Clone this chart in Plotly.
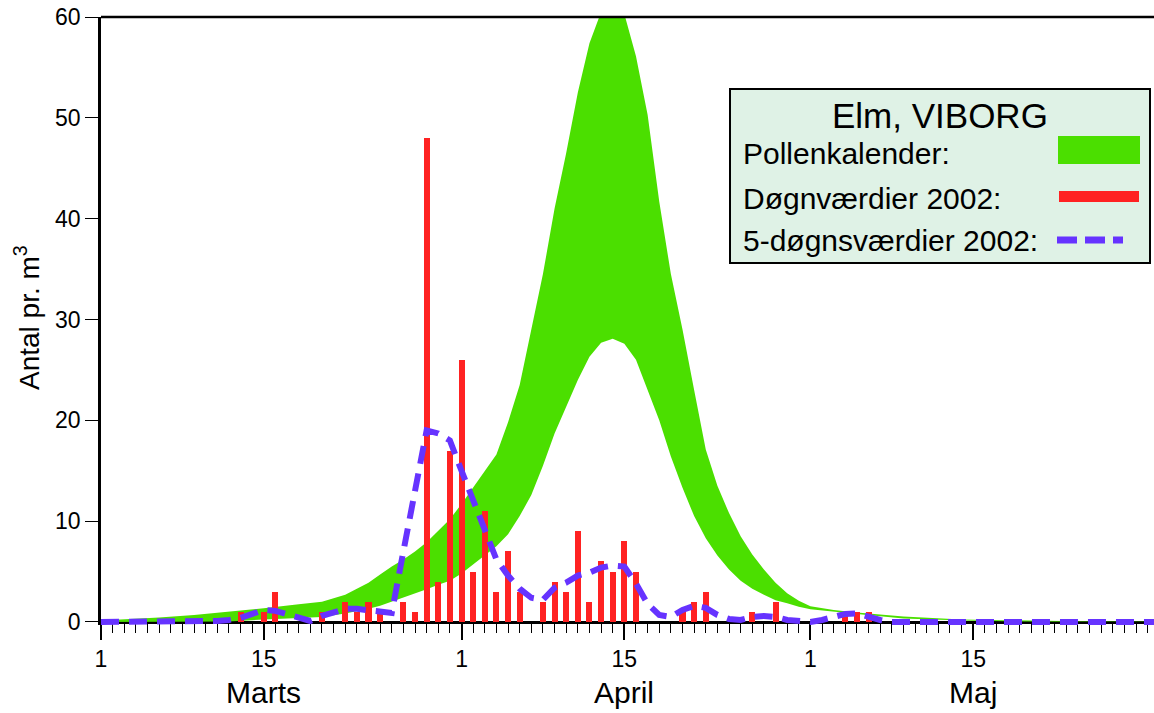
import plotly.graph_objects as go

# ---------------- data ----------------
# Pollen calendar band (day number counted from 1 March)
cal_days = [1, 3, 6, 9, 12, 15, 18, 20, 22, 24, 25, 26, 27, 28, 29, 30, 31, 32, 33, 34,
            35, 36, 37, 38, 39, 40, 41, 42, 43, 44, 45, 46, 47, 48, 49, 50, 51, 52, 53, 54,
            55, 56, 57, 58, 59, 60, 61, 62, 64, 66, 70, 75, 80, 85, 92]
cal_upper = [0.15, 0.25, 0.45, 0.7, 1.0, 1.35, 1.75, 2.0, 2.7, 3.9, 4.7, 5.5, 6.2, 7.0, 7.9, 9.0, 10.2, 11.7, 13.3, 14.9,
             16.6, 19.8, 23.5, 29.0, 34.5, 41.0, 46.5, 52.5, 57.4, 60.5, 61.8, 60.3, 56.1, 50.3, 41.7, 34.5, 29.0, 23.0, 17.1, 13.5,
             10.8, 8.5, 6.7, 5.2, 3.9, 2.85, 2.1, 1.55, 1.2, 0.95, 0.55, 0.25, 0.12, 0.06, 0.03]
cal_lower = [0.0, 0.0, 0.0, 0.0, 0.05, 0.25, 0.42, 0.5, 0.85, 1.3, 1.6, 2.0, 2.4, 2.85, 3.25, 3.7, 4.1, 4.8, 5.7, 6.6,
             7.5, 8.7, 10.5, 12.6, 15.5, 18.7, 21.4, 24.0, 26.3, 27.7, 28.1, 27.6, 26.0, 23.0, 20.0, 16.4, 13.3, 10.5, 8.3, 6.6,
             5.2, 4.1, 3.3, 2.7, 2.15, 1.85, 1.5, 1.25, 1.0, 0.8, 0.35, 0.15, 0.05, 0.02, 0.0]

# Daily values 2002
bar_days = [13, 15, 16, 20, 22, 23, 24, 25, 27, 28, 29, 30, 31, 32, 33, 34, 35, 36, 37,
            39, 40, 41, 42, 43, 44, 45, 46, 47, 51, 52, 53, 57, 59, 65, 66, 67]
bar_vals = [1, 1, 3, 1, 2, 1, 2, 1, 2, 1, 48, 4, 17, 26, 5, 11, 3, 7, 3,
            2, 4, 3, 9, 2, 6, 5, 8, 5, 1, 2, 3, 1, 2, 1, 1, 1]

# 5-day values 2002
dash_days = [1, 10, 11, 12, 13, 14, 15, 16, 17, 18, 19, 20, 21, 22, 23, 24, 25, 26, 27, 28,
             29, 30, 31, 32, 33, 34, 35, 36, 37, 38, 39, 40, 41, 42, 43, 44, 45, 46, 47, 48,
             49, 50, 51, 52, 53, 54, 55, 56, 57, 58, 59, 60, 61, 62, 63, 64, 65, 66, 67, 68,
             69, 92]
dash_vals = [0, 0, 0.1, 0.2, 0.4, 0.8, 1.2, 1.1, 0.8, 0.4, 0.1, 0.6, 0.9, 1.3, 1.3, 1.2, 1.0, 0.9, 7.0, 13.0,
             19.0, 18.7, 18.0, 15.0, 12.0, 9.0, 6.2, 4.6, 3.3, 2.4, 2.2, 3.4, 3.9, 4.6, 4.9, 5.4, 5.6, 5.5, 3.8, 1.8,
             0.7, 0.5, 1.2, 1.6, 1.4, 0.7, 0.3, 0.2, 0.5, 0.6, 0.5, 0.2, 0.05, 0, 0.2, 0.5, 0.8, 0.85, 0.5, 0.2,
             0, 0]

tick_vals = [1, 15, 32, 46, 62, 76]
tick_text = ["1", "15", "1", "15", "1", "15"]
month_names = ["Marts", "April", "Maj"]
month_pos = [15, 46, 76]
y_ticks = [0, 10, 20, 30, 40, 50, 60]

legend_title = "Elm, VIBORG"
legend_labels = ["Pollenkalender:", "Døgnværdier 2002:", "5-døgnsværdier 2002:"]

# ---------------- style ----------------
GREEN = "#4BDF00"
RED = "#FF2222"
PURPLE = "#6633FF"
FONT = "Liberation Sans, Arial, sans-serif"

W, H = 1154, 713
L, R, T, B = 101, 0, 17, 88
Y_MIN, Y_MAX = -0.3, 60
X_MIN = 1
X_MAX = 1 + (W - L - R) / 11.63


def fx(px):
    return (px - L) / (W - L - R)


def fy(py):
    return ((H - B) - py) / (H - T - B)


fig = go.Figure()

fig.add_trace(go.Scatter(x=cal_days, y=cal_lower, mode="lines", line=dict(width=0, color=GREEN),
                         hoverinfo="skip"))
fig.add_trace(go.Scatter(x=cal_days, y=cal_upper, mode="lines", line=dict(width=0, color=GREEN),
                         fill="tonexty", fillcolor=GREEN, hoverinfo="skip"))

fig.add_trace(go.Bar(x=bar_days, y=bar_vals, width=0.52, marker=dict(color=RED, line=dict(width=0)),
                     xaxis="x2", yaxis="y2"))
fig.add_trace(go.Scatter(x=dash_days, y=dash_vals, mode="lines",
                         line=dict(color=PURPLE, width=6, dash="18px,10px"),
                         xaxis="x2", yaxis="y2"))

zero_pos = (0 - Y_MIN) / (Y_MAX - Y_MIN)

fig.update_layout(
    width=W, height=H,
    margin=dict(l=L, r=R, t=T, b=B, pad=0),
    paper_bgcolor="white", plot_bgcolor="white",
    showlegend=False,
    font=dict(family=FONT, color="black"),
    xaxis=dict(range=[X_MIN, X_MAX], tickvals=tick_vals, ticktext=tick_text,
               ticks="outside", ticklen=16, tickwidth=1.5, tickcolor="black",
               showline=True, linewidth=2.5, linecolor="black", mirror=False,
               showgrid=False, zeroline=False, anchor="free", position=zero_pos,
               layer="below traces", tickfont=dict(size=23, family=FONT, color="black"),
               minor=dict(ticks="outside", dtick=1, tick0=1, ticklen=9, tickwidth=1.3,
                          tickcolor="black", showgrid=False)),
    yaxis=dict(range=[Y_MIN, Y_MAX], tickvals=y_ticks, ticks="outside", ticklen=13,
               tickwidth=1.3, tickcolor="black", showline=True, linewidth=2.5,
               linecolor="black", showgrid=False, zeroline=False,
               tickfont=dict(size=23, family=FONT, color="black")),
    xaxis2=dict(range=[X_MIN, X_MAX], overlaying="x", anchor="y2", visible=False),
    yaxis2=dict(range=[Y_MIN, Y_MAX], overlaying="y", anchor="x2", visible=False),
    bargap=0,
)

shapes = [
    # top frame line
    dict(type="line", xref="paper", yref="paper", x0=0, x1=1, y0=1, y1=1,
         line=dict(color="black", width=2.5), layer="above"),
    # legend box
    dict(type="rect", xref="paper", yref="paper", x0=fx(730), x1=fx(1150), y0=fy(263), y1=fy(89),
         fillcolor="#DFF2E6", line=dict(color="black", width=2), layer="above"),
    dict(type="rect", xref="paper", yref="paper", x0=fx(1058), x1=fx(1140), y0=fy(164), y1=fy(136),
         fillcolor=GREEN, line=dict(width=0), layer="above"),
    dict(type="rect", xref="paper", yref="paper", x0=fx(1059), x1=fx(1139), y0=fy(202), y1=fy(191),
         fillcolor=RED, line=dict(width=0), layer="above"),
    dict(type="line", xref="paper", yref="paper", x0=fx(1057), x1=fx(1123), y0=fy(240), y1=fy(240),
         line=dict(color=PURPLE, width=7, dash="20px,8px"), layer="above"),
]
fig.update_layout(shapes=shapes)

ann = []
ann.append(dict(text=legend_title, xref="paper", yref="paper", x=fx(940), y=fy(116),
                xanchor="center", yanchor="middle", showarrow=False,
                font=dict(size=35, family=FONT, color="black")))
for lbl, py in zip(legend_labels, [153, 198, 240]):
    ann.append(dict(text=lbl, xref="paper", yref="paper", x=fx(741), y=fy(py),
                    xanchor="left", yanchor="middle", showarrow=False,
                    font=dict(size=30, family=FONT, color="black")))
for name, pos in zip(month_names, month_pos):
    ann.append(dict(text=name, xref="x", yref="paper", x=pos, y=fy(692),
                    xanchor="center", yanchor="middle", showarrow=False,
                    font=dict(size=30, family=FONT, color="black")))
ann.append(dict(text="Antal pr. m<sup>3</sup>", xref="paper", yref="paper", x=fx(27), y=fy(318),
                xanchor="center", yanchor="middle", textangle=-90, showarrow=False,
                font=dict(size=28, family=FONT, color="black")))
fig.update_layout(annotations=ann)

fig.write_html("out.html")
